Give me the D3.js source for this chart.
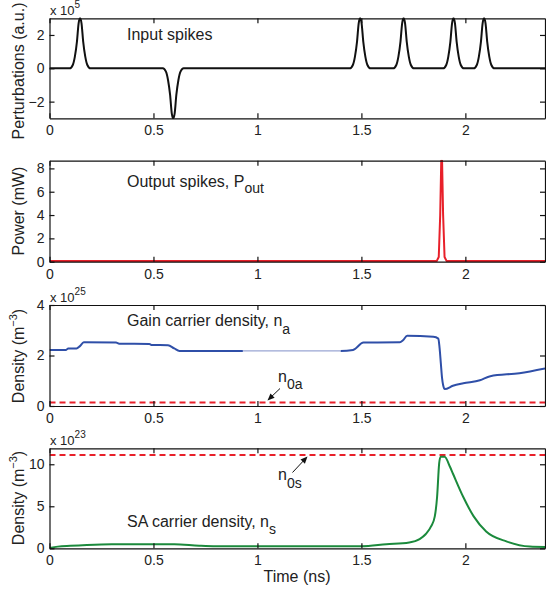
<!DOCTYPE html>
<html lang="en">
<head>
    <meta charset="UTF-8">
    <script src="https://d3js.org/d3.v7.min.js"></script>
    <style>
        body {
            margin: 0;
            padding: 0;
            background-color: #ffffff;
            font-family: 'Liberation Sans', Arial, Helvetica, sans-serif;
        }

        svg {
            display: block;
        }

        .axis path,
        .axis line {
            stroke: #111;
            stroke-width: 1.2px;
        }

        .axis text {
            font-family: 'Liberation Sans', Arial, sans-serif;
            font-size: 14px;
            fill: #222;
        }

        .label {
            font-family: 'Liberation Sans', Arial, sans-serif;
            font-size: 16px;
            fill: #222;
        }
    </style>
</head>
<body>
    <svg id="chart"></svg>

    <script>
        // Shared time axis (ns)
        const xTicks = [0, 0.5, 1, 1.5, 2];
        const timeEnd = 2.383;

        // Input spikes (x 10^5, a.u.)
        const inputTime = [0,
            0.097, 0.112, 0.122, 0.132, 0.140, 0.147, 0.154, 0.162, 0.172, 0.182, 0.197,
            0.545, 0.560, 0.570, 0.580, 0.588, 0.595, 0.602, 0.610, 0.620, 0.630, 0.645,
            1.444, 1.459, 1.469, 1.479, 1.487, 1.494, 1.501, 1.509, 1.519, 1.529, 1.544,
            1.653, 1.668, 1.678, 1.688, 1.696, 1.703, 1.710, 1.718, 1.728, 1.738, 1.753,
            1.893, 1.908, 1.918, 1.928, 1.936, 1.943, 1.950, 1.958, 1.968, 1.978, 1.993,
            2.040, 2.055, 2.065, 2.075, 2.083, 2.090, 2.097, 2.105, 2.115, 2.125, 2.140,
            2.383];
        const inputValue = [0,
            0, 0.2, 0.7, 1.6, 2.7, 3, 2.7, 1.6, 0.7, 0.2, 0,
            0, -0.2, -0.7, -1.6, -2.7, -3, -2.7, -1.6, -0.7, -0.2, 0,
            0, 0.2, 0.7, 1.6, 2.7, 3, 2.7, 1.6, 0.7, 0.2, 0,
            0, 0.2, 0.7, 1.6, 2.7, 3, 2.7, 1.6, 0.7, 0.2, 0,
            0, 0.2, 0.7, 1.6, 2.7, 3, 2.7, 1.6, 0.7, 0.2, 0,
            0, 0.2, 0.7, 1.6, 2.7, 3, 2.7, 1.6, 0.7, 0.2, 0,
            0];
        const inputTicks = [-2, 0, 2];

        // Output power (mW)
        const powerTime = [0, 1.862, 1.872, 1.879, 1.884, 1.888, 1.893, 1.900, 1.910, 2.383];
        const powerValue = [0.05, 0.05, 0.4, 4, 8.66, 8.66, 4, 0.4, 0.05, 0.05];
        const powerTicks = [0, 2, 4, 6, 8];

        // Gain carrier density n_a (x 10^25 m^-3)
        const gainTime = [0, 0.08, 0.09, 0.13, 0.145, 0.165, 0.32, 0.335, 0.48, 0.49, 0.57, 0.60, 0.625,
            1.40, 1.46, 1.51, 1.685, 1.70, 1.72, 1.846, 1.870, 1.876, 1.882, 1.888, 1.893, 1.901,
            1.94, 1.99, 2.07, 2.12, 2.26, 2.383];
        const gainValue = [2.22, 2.22, 2.28, 2.28, 2.36, 2.52, 2.51, 2.47, 2.46, 2.42, 2.41, 2.28, 2.18,
            2.18, 2.22, 2.51, 2.52, 2.60, 2.78, 2.74, 2.67, 2.3, 1.7, 1.1, 0.83, 0.67,
            0.8, 0.9, 1.02, 1.18, 1.3, 1.49];
        const gainThreshold = 0.14;
        const gainTicks = [0, 2, 4];

        // SA carrier density n_s (x 10^23 m^-3)
        const saTime = [0, 0.04, 0.10, 0.18, 0.30, 0.60, 0.72, 0.80, 1.50, 1.62, 1.73, 1.78, 1.81, 1.835,
            1.853, 1.864, 1.874, 1.881, 1.90, 1.926, 1.94, 1.99, 2.04, 2.10, 2.20, 2.31, 2.383];
        const saValue = [0.05, 0.2, 0.3, 0.4, 0.48, 0.48, 0.3, 0.24, 0.24, 0.48, 0.7, 1.1, 1.7, 2.6,
            3.8, 6.1, 10.1, 10.9, 10.9, 9.7, 8.9, 6.1, 3.8, 2.0, 0.8, 0.2, 0.15];
        const saThreshold = 11.1;
        const saTicks = [0, 5, 10];

        const width = 546;
        const height = 592;

        const svg = d3.select("#chart")
            .attr("width", width)
            .attr("height", height);

        const x = d3.scaleLinear()
            .domain([0, timeEnd])
            .range([49.5, 545]);

        const zip = (ts, vs) => ts.map((t, i) => ({ t: t, v: vs[i] }));
        const fmt = d => d < 0 ? "\u2212" + (-d) : String(d);

        // one MATLAB-style box with inward ticks on all four sides
        function panel(id, top, bottom, yDomain, yTicks) {
            const y = d3.scaleLinear().domain(yDomain).range([bottom, top]);

            svg.append("clipPath")
                .attr("id", "clip-" + id)
                .append("rect")
                .attr("x", x.range()[0])
                .attr("y", top - 1)
                .attr("width", x.range()[1] - x.range()[0])
                .attr("height", bottom - top + 2);

            const plot = svg.append("g").attr("clip-path", `url(#clip-${id})`);

            svg.append("g")
                .attr("class", "axis")
                .attr("transform", `translate(0,${bottom})`)
                .call(d3.axisBottom(x).tickValues(xTicks).tickFormat(fmt)
                    .tickSize(-5).tickSizeOuter(0).tickPadding(7));

            svg.append("g")
                .attr("class", "axis")
                .attr("transform", `translate(0,${top})`)
                .call(d3.axisTop(x).tickValues(xTicks).tickFormat("")
                    .tickSize(-5).tickSizeOuter(0));

            svg.append("g")
                .attr("class", "axis")
                .attr("transform", `translate(${x.range()[0]},0)`)
                .call(d3.axisLeft(y).tickValues(yTicks).tickFormat(fmt)
                    .tickSize(-5).tickSizeOuter(0).tickPadding(5));

            svg.append("g")
                .attr("class", "axis")
                .attr("transform", `translate(${x.range()[1]},0)`)
                .call(d3.axisRight(y).tickValues(yTicks).tickFormat("")
                    .tickSize(-5).tickSizeOuter(0));

            return { y: y, plot: plot, top: top, bottom: bottom };
        }

        function drawLine(p, data, color, curve, widthPx) {
            const line = d3.line()
                .x(d => x(d.t))
                .y(d => p.y(d.v))
                .curve(curve);
            return p.plot.append("path")
                .datum(data)
                .attr("fill", "none")
                .attr("stroke", color)
                .attr("stroke-width", widthPx)
                .attr("stroke-linejoin", "round")
                .attr("d", line);
        }

        function dashed(p, value) {
            p.plot.append("line")
                .attr("x1", x(0))
                .attr("x2", x(timeEnd))
                .attr("y1", p.y(value))
                .attr("y2", p.y(value))
                .attr("stroke", "#e8202a")
                .attr("stroke-width", 2)
                .attr("stroke-dasharray", "6,4");
        }

        function exponent(p, power) {
            const t = svg.append("text")
                .attr("x", 50)
                .attr("y", p.top - 3)
                .style("font-size", "13px")
                .style("fill", "#222");
            t.append("tspan").text("x 10");
            t.append("tspan").attr("dy", -7).style("font-size", "10px").text(power);
        }

        function yLabel(p, main, sup, cy) {
            const t = svg.append("text")
                .attr("class", "label")
                .attr("text-anchor", "middle")
                .attr("transform", `translate(24,${cy}) rotate(-90)`);
            t.append("tspan").text(main);
            if (sup) {
                t.append("tspan").attr("dy", -7).style("font-size", "11px").text(sup);
                t.append("tspan").attr("dy", 7).text(")");
            }
        }

        function subText(px, py, main, sub, dy) {
            const t = svg.append("text")
                .attr("class", "label")
                .attr("x", px)
                .attr("y", py);
            t.append("tspan").text(main);
            if (sub) t.append("tspan").attr("dy", dy).style("font-size", "14px").text(sub);
        }

        function arrow(x1, y1, x2, y2) {
            const ang = Math.atan2(y2 - y1, x2 - x1);
            const len = 7, half = 3;
            svg.append("line")
                .attr("x1", x1).attr("y1", y1)
                .attr("x2", x2 - Math.cos(ang) * len * 0.8)
                .attr("y2", y2 - Math.sin(ang) * len * 0.8)
                .attr("stroke", "#111").attr("stroke-width", 1);
            const bx = x2 - Math.cos(ang) * len, by = y2 - Math.sin(ang) * len;
            svg.append("path")
                .attr("d", `M${x2},${y2}L${bx - Math.sin(ang) * half},${by + Math.cos(ang) * half}` +
                    `L${bx + Math.sin(ang) * half},${by - Math.cos(ang) * half}Z`)
                .attr("fill", "#111");
        }

        // Panel 1: input spikes
        const p1 = panel("p1", 18.3, 118.3, [-3, 3], inputTicks);
        drawLine(p1, zip(inputTime, inputValue), "#111", d3.curveMonotoneX, 2);
        exponent(p1, "5");
        yLabel(p1, "Perturbations (a.u.)", null, 71);
        subText(127, 39.5, "Input spikes");

        // Panel 2: output power
        const p2 = panel("p2", 160.7, 261.7, [0, 8.66], powerTicks);
        drawLine(p2, zip(powerTime, powerValue), "#e8202a", d3.curveLinear, 2);
        yLabel(p2, "Power (mW)", null, 211);
        subText(127, 186.5, "Output spikes, P", "out", 6);

        // Panel 3: gain carrier density
        const p3 = panel("p3", 305, 406, [0, 4], gainTicks);
        dashed(p3, gainThreshold);
        const gainData = zip(gainTime, gainValue);
        drawLine(p3, gainData, "#2f4fa8", d3.curveMonotoneX, 2);
        // faint stretch of the blue trace
        svg.append("clipPath")
            .attr("id", "clip-faint")
            .append("rect")
            .attr("x", x(0.93)).attr("y", 340)
            .attr("width", x(1.40) - x(0.93)).attr("height", 20);
        const faint = svg.append("g").attr("clip-path", "url(#clip-faint)");
        faint.append("path").datum(gainData).attr("fill", "none").attr("stroke", "#fff").attr("stroke-width", 3)
            .attr("d", d3.line().x(d => x(d.t)).y(d => p3.y(d.v)).curve(d3.curveMonotoneX));
        faint.append("path").datum(gainData).attr("fill", "none").attr("stroke", "#9aa6d4").attr("stroke-width", 1.3)
            .attr("d", d3.line().x(d => x(d.t)).y(d => p3.y(d.v)).curve(d3.curveMonotoneX));
        exponent(p3, "25");
        yLabel(p3, "Density (m", "\u22123", 356);
        subText(127, 325.5, "Gain carrier density, n", "a", 8);
        subText(278, 381.5, "n", "0a", 7.5);
        arrow(280, 388.5, 267.5, 400.5);

        // Panel 4: SA carrier density
        const p4 = panel("p4", 448.3, 548.3, [0, 11.9], saTicks);
        dashed(p4, saThreshold);
        drawLine(p4, zip(saTime, saValue), "#1b8a3c", d3.curveMonotoneX, 2);
        exponent(p4, "23");
        yLabel(p4, "Density (m", "\u22123", 498);
        subText(127, 526.5, "SA carrier density, n", "s", 7);
        subText(278, 479.5, "n", "0s", 8);
        arrow(292.5, 472.5, 307.5, 456.5);

        svg.append("text")
            .attr("class", "label")
            .attr("text-anchor", "middle")
            .attr("x", 297)
            .attr("y", 581.5)
            .text("Time (ns)");
    </script>
</body>
</html>
